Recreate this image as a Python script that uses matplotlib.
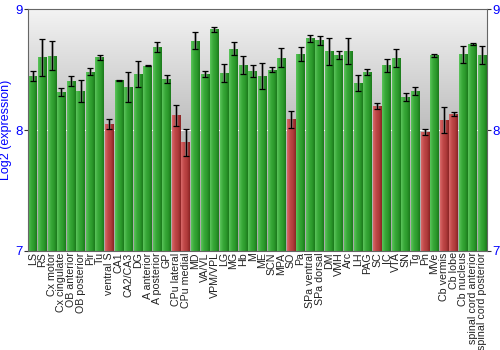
import numpy as np
import matplotlib
matplotlib.use("Agg")
import matplotlib.pyplot as plt
from matplotlib.colors import LinearSegmentedColormap

plt.rcParams["font.family"] = ["Liberation Sans", "DejaVu Sans"]

regions = ["LS", "RS", "Cx motor", "Cx cingulate", "OB anterior", "OB posterior", "Pir", "Tu",
           "ventral S", "CA1", "CA2/CA3", "DG", "A anterior", "A posterior", "GP", "CPu lateral",
           "CPu medial", "MD", "VA/VL", "VPM/VPL", "LG", "MG", "Hb", "M", "ME", "SCN", "MPA", "SO",
           "Pa", "SPa ventral", "SPa dorsal", "DM", "VMH", "Arc", "LH", "PAG", "SC", "IC", "VTA",
           "SN", "Tg", "Pn", "MVe", "Cb vermis", "Cb lobe", "Cb nucleus", "spinal cord anterior",
           "spinal cord posterior"]
values = [8.446, 8.60, 8.614, 8.314, 8.408, 8.325, 8.482, 8.60,
          8.052, 8.41, 8.353, 8.463, 8.532, 8.689, 8.424, 8.121,
          7.898, 8.738, 8.463, 8.832, 8.471, 8.672, 8.537, 8.49, 8.446, 8.50, 8.598, 8.088,
          8.628, 8.758, 8.741, 8.65, 8.62, 8.653, 8.388, 8.482, 8.201, 8.537, 8.592,
          8.27, 8.322, 7.983, 8.617, 8.083, 8.132, 8.628, 8.711, 8.617]
errors = [0.043, 0.15, 0.12, 0.036, 0.04, 0.09, 0.028, 0.02,
          0.04, 0.006, 0.124, 0.11, 0.003, 0.04, 0.033, 0.088,
          0.11, 0.069, 0.028, 0.019, 0.077, 0.052, 0.072, 0.05, 0.11, 0.024, 0.079, 0.07,
          0.055, 0.03, 0.039, 0.11, 0.036, 0.11, 0.069, 0.025, 0.025, 0.054, 0.074,
          0.034, 0.034, 0.026, 0.014, 0.11, 0.014, 0.07, 0.005, 0.074]
low = [0, 0, 0, 0, 0, 0, 0, 0,
       1, 0, 0, 0, 0, 0, 0, 1,
       1, 0, 0, 0, 0, 0, 0, 0, 0, 0, 0, 1,
       0, 0, 0, 0, 0, 0, 0, 0, 1, 0, 0,
       0, 0, 1, 0, 1, 1, 0, 0, 0]
yticks = [7, 8, 9]

fig = plt.figure(figsize=(5, 3.5), dpi=100)
ax = fig.add_axes([0.056, 0.283, 0.918, 0.691])
ax.set_xlim(-0.5, len(regions) - 0.5)
ax.set_ylim(7, 9)

# background gradient
bg = LinearSegmentedColormap.from_list("bg", ["#a8a8a8", "#bdbdbd", "#f3f3f3"])
ax.imshow(np.linspace(0, 1, 256).reshape(-1, 1), cmap=bg, aspect="auto",
          extent=[-0.5, len(regions) - 0.5, 7, 9], origin="lower", zorder=0)
ax.axhline(8, color="white", lw=0.8, zorder=1)

green = LinearSegmentedColormap.from_list("g", ["#5cc45c", "#3aaa3a", "#2c9a2c", "#1c7a1c"])
red = LinearSegmentedColormap.from_list("r", ["#d86a6a", "#c04848", "#b03c3c", "#8a2424"])
grad = np.linspace(0, 1, 64).reshape(1, -1)

x = np.arange(len(regions))
bars = ax.bar(x, np.array(values) - 7, bottom=7, width=0.9, color="none", zorder=2)
for b, lo in zip(bars, low):
    x0, y0 = b.get_x(), b.get_y()
    w, h = b.get_width(), b.get_height()
    im = ax.imshow(grad, cmap=red if lo else green, aspect="auto",
                   extent=[x0, x0 + w, y0, y0 + h], zorder=2)
    im.set_clip_path(b)

ax.errorbar(x, values, yerr=errors, fmt="none", ecolor="#888888", elinewidth=2.2,
            capsize=0, alpha=0.6, zorder=3)
ax.errorbar(x, values, yerr=errors, fmt="none", ecolor="black", elinewidth=0.9,
            capsize=2.2, capthick=0.9, zorder=4)

ax.set_xlim(-0.5, len(regions) - 0.5)
ax.set_ylim(7, 9)
ax.set_xticks(x)
ax.set_xticklabels(regions, rotation=90, fontsize=7.7, color="#222222")
ax.tick_params(axis="x", length=0, pad=1)
ax.set_yticks(yticks)
ax.set_yticklabels([str(t) for t in yticks], color="blue", fontsize=9.5)
ax.tick_params(axis="y", which="both", left=True, right=True, labelleft=True,
               labelright=True, length=3, color="#333333", pad=1)
ax.set_ylabel("Log2 (expression)", color="blue", fontsize=9, labelpad=2)
for s in ax.spines.values():
    s.set_color("#666666")
    s.set_linewidth(0.8)

fig.savefig("out.png", dpi=100)
